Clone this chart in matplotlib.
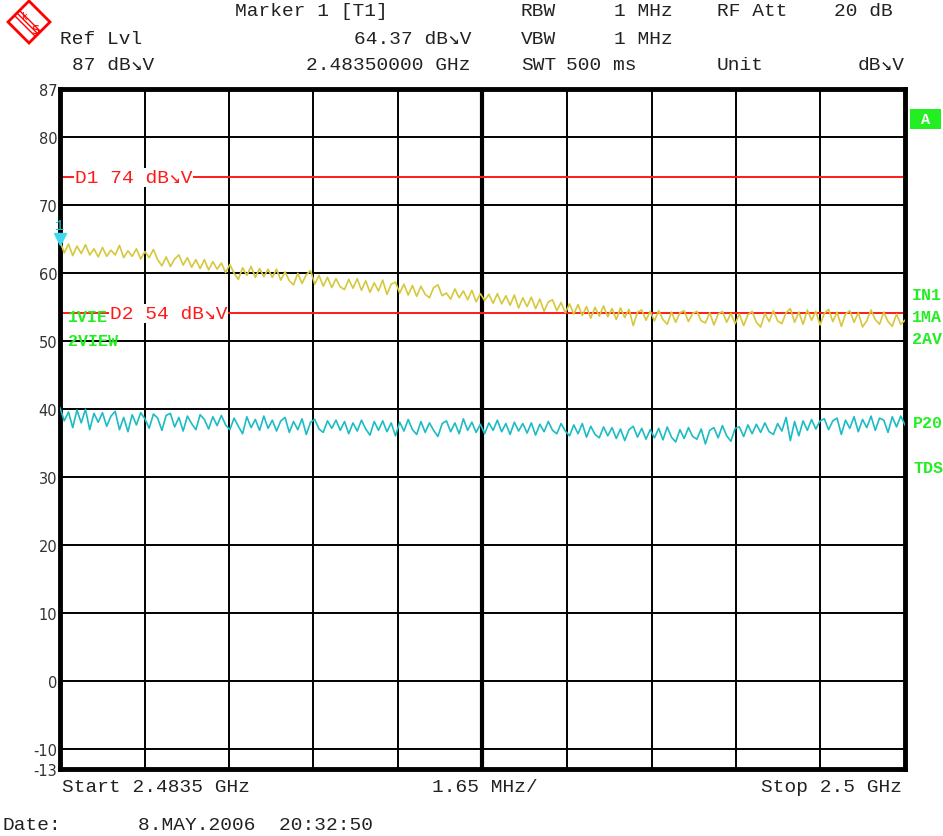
import matplotlib
matplotlib.use("Agg")
import matplotlib.pyplot as plt
import numpy as np
from matplotlib.patches import Polygon, Rectangle

# sweep settings
f_start = 2.4835   # GHz
f_stop = 2.5
f_div = 0.00165    # 1.65 MHz / div
ref_lvl = 87
y_bottom = -13
d1_level = 74
d2_level = 54
marker_level = 64.37

yticks = [87, 80, 70, 60, 50, 40, 30, 20, 10, 0, -10, -13]

# trace 1 (max hold, yellow), dBuV
trace1 = [
    64.6, 62.9, 64.2, 62.5, 63.9, 62.8, 64.1, 62.6, 63.5, 62.3,
    63.7, 62.4, 63.3, 62.6, 64.0, 62.2, 63.2, 62.4, 63.5, 62.0,
    63.1, 62.2, 63.4, 61.9, 61.0, 62.3, 60.9, 62.0, 62.6, 61.1,
    62.2, 60.8, 61.9, 60.6, 61.9, 60.4, 61.6, 60.5, 61.4, 60.0,
    61.2, 59.9, 59.0, 60.7, 59.6, 60.9, 59.3, 60.6, 59.4, 60.5,
    59.3, 60.5, 58.9, 60.1, 58.8, 58.2, 59.9, 58.4, 59.7, 60.3,
    58.3, 59.6, 58.0, 59.3, 57.8, 59.1, 57.9, 57.5, 59.0, 57.7,
    59.1, 57.4, 58.8, 57.1, 58.5, 57.3, 58.9, 56.8, 58.3, 58.6,
    57.0, 58.3, 56.7, 58.1, 56.5, 58.0, 56.8, 56.3, 57.8, 58.2,
    56.6, 57.0, 56.1, 57.6, 56.3, 57.3, 56.0, 57.4, 55.7, 56.9,
    55.9, 56.8, 55.5, 56.9, 55.4, 56.6, 55.2, 56.7, 54.8, 56.3,
    55.0, 56.4, 54.7, 56.1, 54.3, 55.7, 56.0, 54.4, 55.6, 54.1,
    55.4, 53.9, 55.3, 53.7, 55.0, 53.3, 54.9, 53.6, 55.1, 53.5,
    54.7, 53.1, 54.8, 53.4, 54.6, 52.2, 54.2, 54.5, 53.0, 54.3,
    52.9, 54.4, 53.1, 52.4, 54.2, 52.7, 54.1, 54.4, 52.8, 54.0,
    54.3, 52.9, 52.6, 54.1, 52.3, 53.9, 54.3, 52.7, 54.0, 52.5,
    53.9, 52.2, 53.8, 54.3, 52.7, 52.0, 54.0, 52.8, 54.4, 52.9,
    52.5, 54.1, 54.7, 52.7, 54.2, 52.4, 54.5, 53.0, 54.3, 52.3,
    54.0, 54.6, 52.8, 54.2, 52.1, 53.9, 54.4, 52.7, 54.1, 52.0,
    52.9, 54.5, 53.1, 52.4, 54.2, 52.8, 52.1, 53.9, 52.4, 53.0,
]

# trace 2 (average, cyan)
trace2 = [
    40.1, 38.2, 39.5, 37.2, 39.8, 37.9, 39.9, 36.9, 39.3, 38.0,
    39.4, 37.4, 38.9, 39.6, 36.9, 38.7, 36.6, 39.1, 37.6, 39.4,
    38.5, 37.1, 39.2, 38.6, 36.8, 39.0, 39.3, 37.3, 38.7, 36.7,
    38.9, 37.8, 36.9, 39.1, 38.4, 37.0, 38.8, 37.5, 39.0, 37.6,
    36.9, 38.6, 37.4, 36.3, 38.8, 37.2, 38.4, 36.8, 38.9, 37.1,
    38.3, 36.7, 38.2, 38.7, 36.5, 38.1, 36.9, 38.5, 36.2, 38.0,
    38.4, 37.0, 36.5, 38.2, 37.1, 38.3, 36.8, 38.1, 36.3, 37.9,
    36.7, 38.3, 37.0, 36.1, 38.1, 36.8, 38.2, 36.6, 37.9, 36.0,
    38.0, 36.7, 38.4, 36.9, 36.2, 38.1, 36.5, 37.9, 36.8, 35.9,
    37.8, 38.2, 36.6, 37.9, 36.3, 38.5, 36.8, 38.0, 36.5, 37.7,
    36.3, 37.9, 36.8, 38.3, 36.6, 37.8, 36.2, 38.0, 36.7, 37.8,
    36.4, 37.9, 36.1, 37.7, 36.6, 38.1, 36.8, 36.3, 37.8, 36.7,
    36.0, 37.6, 36.3, 37.8, 35.8, 37.4, 36.2, 35.7, 37.3, 36.0,
    37.2, 35.6, 37.0, 35.3, 36.9, 37.4, 35.8, 37.1, 35.5, 36.9,
    35.7, 37.1, 35.4, 37.3, 35.8, 35.1, 36.9, 35.6, 37.2, 35.9,
    35.5, 37.0, 34.8, 36.8, 37.2, 35.7, 37.5, 36.0, 35.2, 37.1,
    37.3, 35.9, 37.6, 36.3, 37.7, 36.5, 37.9, 36.6, 36.2, 37.8,
    36.7, 38.7, 35.3, 38.1, 36.0, 38.2, 36.8, 38.4, 37.0, 38.2,
    38.5, 36.9, 38.2, 38.6, 36.2, 38.3, 37.1, 38.8, 36.6, 38.4,
    37.2, 38.9, 36.8, 38.6, 38.3, 36.5, 38.8, 37.3, 38.9, 37.6,
]

W, H = 943, 837
mono = ["Liberation Mono", "DejaVu Sans Mono"]
txt_col = "#222222"
green = "#22ee22"
red = "#ff1a1a"

fig = plt.figure(figsize=(W / 100, H / 100), dpi=100)
ax = fig.add_axes([60 / W, 1 - 770 / H, 845 / W, 680 / H])

def px(x, y):
    return x / W, 1 - y / H

freqs = np.linspace(f_start, f_stop, len(trace1))

# grid
for k in range(1, 10):
    ax.axvline(f_start + k * f_div, color="black", lw=3.0 if k == 5 else 1.4, zorder=1)
for v in range(-10, 81, 10):
    ax.axhline(v, color="black", lw=1.4, zorder=1)

ax.plot(freqs, trace1, color="#d6c83c", lw=1.2, zorder=3)
ax.plot(freqs, trace2, color="#1cbcc4", lw=1.2, zorder=3)

# display lines
ax.axhline(d1_level, color=red, lw=1.4, zorder=2)
ax.axhline(d2_level, color=red, lw=1.4, zorder=2)
ax.text(15 / 845, d1_level, "D1 74 dB\u2198V", color=red, transform=ax.get_yaxis_transform(),
        family=mono, fontsize=14, va="center", ha="left",
        bbox=dict(facecolor="white", edgecolor="none", pad=0.5), zorder=4)
ax.text(50 / 845, d2_level, "D2 54 dB\u2198V", color=red, transform=ax.get_yaxis_transform(),
        family=mono, fontsize=14, va="center", ha="left",
        bbox=dict(facecolor="white", edgecolor="none", pad=0.5), zorder=4)

# marker 1
ax.plot([freqs[0]], [marker_level + 0.6], marker="v", color="#40d8f0", ms=9, zorder=5, clip_on=False)
ax.text(freqs[0], marker_level + 1.6, "1", color="#1cbcc4", family=mono, fontsize=11,
        ha="center", va="bottom", zorder=5)

ax.set_xlim(f_start, f_stop)
ax.set_ylim(y_bottom, ref_lvl)
ax.set_xticks([])
ax.set_yticks(yticks)
ax.set_yticklabels([str(t) for t in yticks], fontsize=10.5, color="#333333")
ax.tick_params(axis="y", length=0, pad=2)
for s in ax.spines.values():
    s.set_linewidth(3.5)
    s.set_color("black")

# green status labels
for x, y, s in [(68, 318, "1VIE"), (68, 341, "2VIEW"), (912, 296, "IN1"), (912, 318, "1MA"),
                (912, 340, "2AV"), (913, 424, "P20"), (913, 469, "TDS")]:
    fig.text(*px(x, y), s, color=green, family=mono, fontsize=12, fontweight="bold",
             ha="left", va="center")
fig.patches.append(Rectangle(px(910, 130), 31 / W, 20 / H, transform=fig.transFigure,
                             facecolor="#22ee22", edgecolor="none"))
fig.text(*px(925.5, 120), "A", color="white", family=mono, fontsize=11, fontweight="bold",
         ha="center", va="center")

# header
hdr = dict(family=mono, fontsize=14, color=txt_col, va="center")
fig.text(*px(235, 12), "Marker 1 [T1]", ha="left", **hdr)
fig.text(*px(60, 39), "Ref Lvl", ha="left", **hdr)
fig.text(*px(472, 39), "64.37 dB\u2198V", ha="right", **hdr)
fig.text(*px(72, 66), "87 dB\u2198V", ha="left", **hdr)
fig.text(*px(470, 66), "2.48350000 GHz", ha="right", **hdr)
fig.text(*px(521, 12), "RBW", ha="left", **hdr)
fig.text(*px(673, 12), "1 MHz", ha="right", **hdr)
fig.text(*px(717, 12), "RF Att", ha="left", **hdr)
fig.text(*px(893, 12), "20 dB", ha="right", **hdr)
fig.text(*px(521, 39), "VBW", ha="left", **hdr)
fig.text(*px(673, 39), "1 MHz", ha="right", **hdr)
fig.text(*px(521, 66), "SWT", ha="left", **hdr)
fig.text(*px(566, 66), "500 ms", ha="left", **hdr)
fig.text(*px(717, 66), "Unit", ha="left", **hdr)
fig.text(*px(905, 66), "dB\u2198V", ha="right", **hdr)

# footer
fig.text(*px(62, 788), "Start 2.4835 GHz", ha="left", **hdr)
fig.text(*px(432, 788), "1.65 MHz/", ha="left", **hdr)
fig.text(*px(902, 788), "Stop 2.5 GHz", ha="right", **hdr)
fig.text(*px(3, 826), "Date:", ha="left", **hdr)
fig.text(*px(138, 826), "8.MAY.2006  20:32:50", ha="left", **hdr)

# R&S logo
cx, cy, r = 29, 23, 21
logo = Polygon([px(cx, cy - r), px(cx + r, cy), px(cx, cy + r), px(cx - r, cy)], closed=True,
               transform=fig.transFigure, facecolor="white", edgecolor="red", lw=2)
fig.patches.append(logo)
for off in (-2.5, 0, 2.5):
    fig.lines.append(plt.Line2D([(cx - 12 + off) / W, (cx + 9 + off) / W],
                                [1 - (cy - 9 - off) / H, 1 - (cy + 12 - off) / H],
                                transform=fig.transFigure, color="red", lw=1))
fig.text(*px(24, 17), "k", color="red", fontsize=7, ha="center", va="center")
fig.text(*px(35, 31), "S", color="red", fontsize=9, ha="center", va="center")

fig.savefig("out.png", dpi=100)
